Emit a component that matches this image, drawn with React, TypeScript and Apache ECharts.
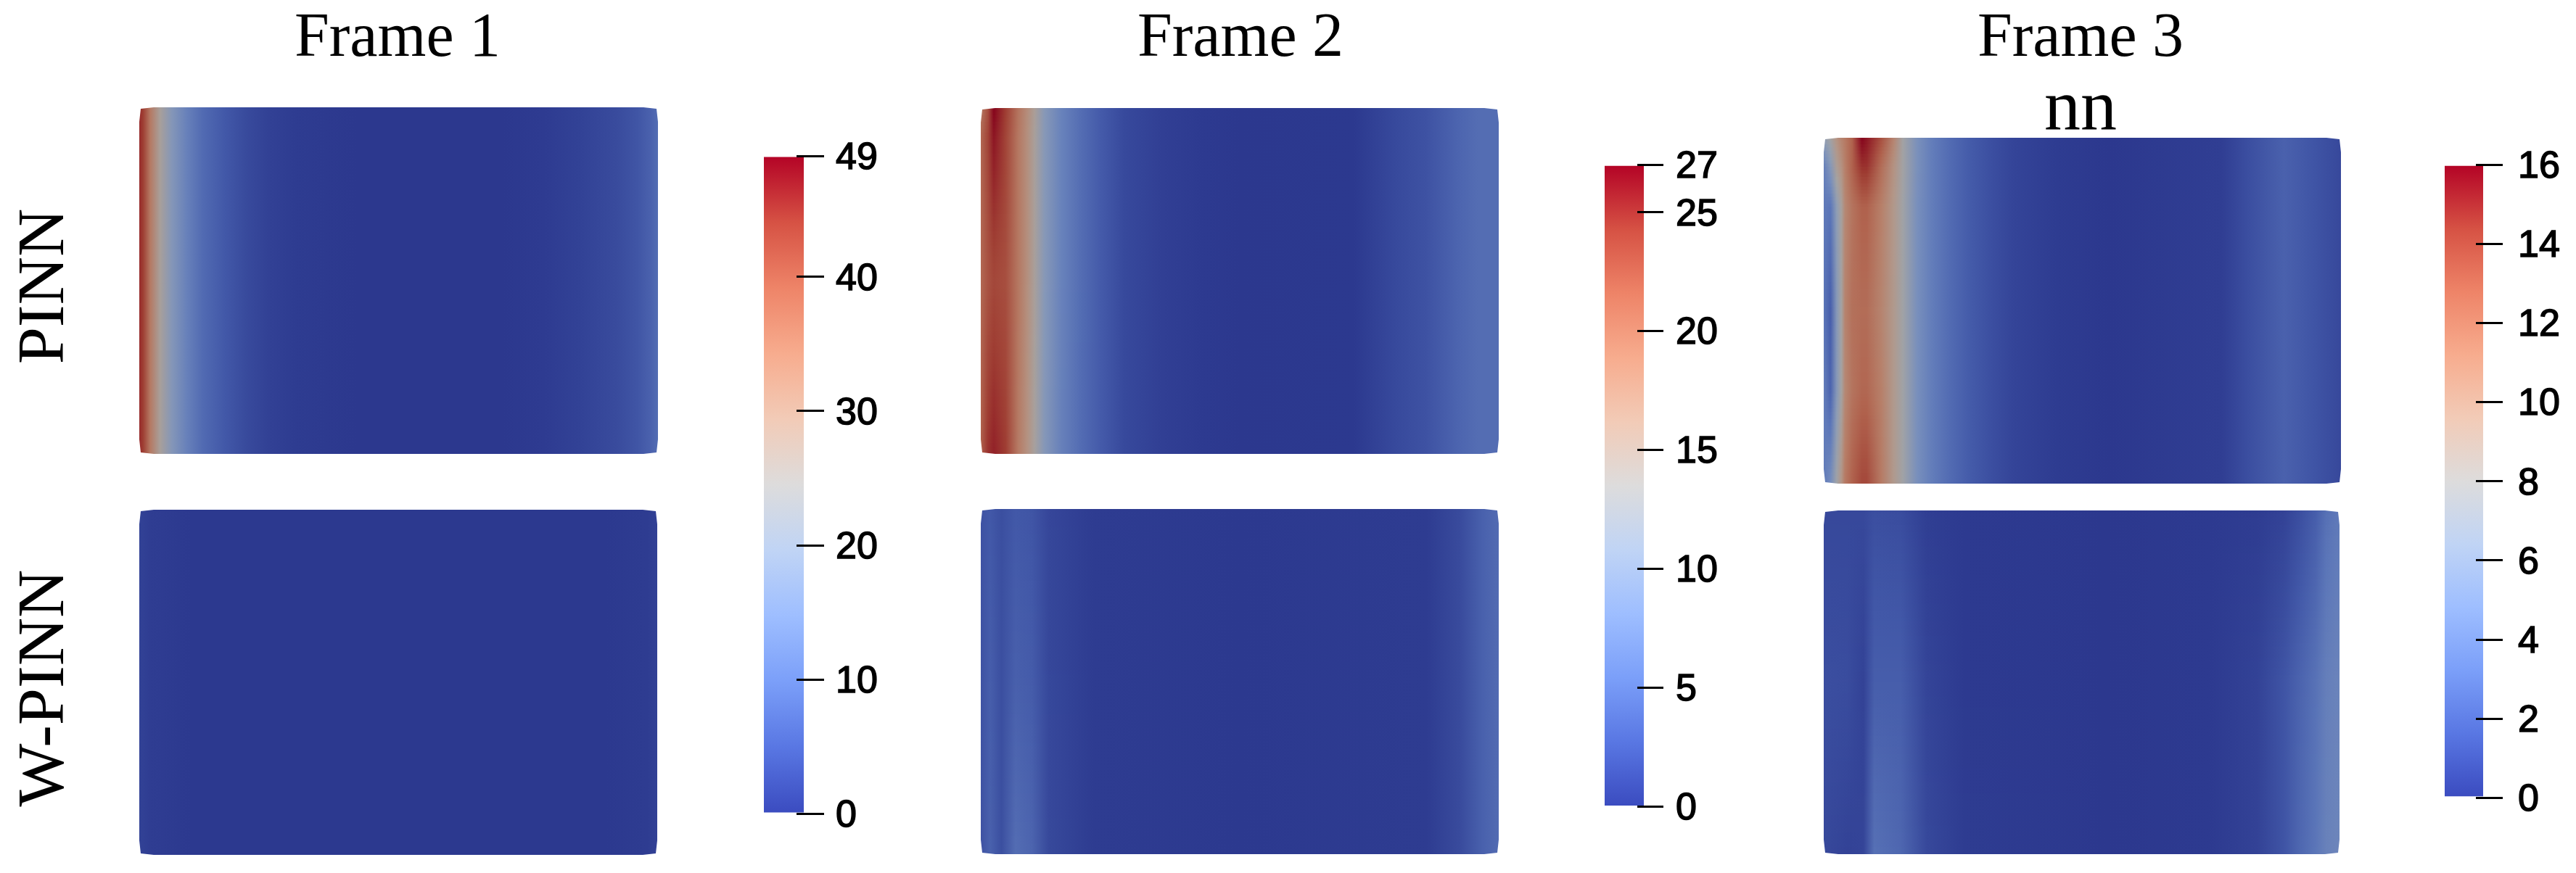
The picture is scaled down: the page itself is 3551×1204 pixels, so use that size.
import React, { useEffect, useRef } from "react";
import * as echarts from "echarts";

const WIDTH = 3551;
const HEIGHT = 1204;

// Diverging colour map (position 0..1 -> rgb)
const coolWarmColors: number[][] = [
  [59, 76, 192], [89, 119, 227], [123, 159, 249], [158, 190, 255], [192, 212, 245],
  [221, 220, 220], [242, 203, 183], [247, 172, 142], [238, 132, 104], [214, 82, 68], [180, 4, 38],
];
const surfaceShade = 0.74;

// Frame 1
const frame1Max = 49;
const frame1Ticks = [0, 10, 20, 30, 40, 49];
const frame1PinnStations = [0, 0.007, 0.021, 0.04, 0.063, 0.091, 0.123, 0.165, 0.207, 0.249, 0.3, 0.36, 0.42, 0.7, 0.78, 0.85, 0.92, 0.96, 0.985, 1];
const frame1PinnRowPos = [0, 1];
const frame1PinnRows = [
  [45.6, 44.1, 35.3, 26, 17.6, 12.2, 7.8, 4.9, 2.7, 1.4, 0.6, 0.2, 0, 0, 0.5, 1.5, 2.9, 4.4, 6.4, 8.3],
  [45.6, 44.1, 35.3, 26, 17.6, 12.2, 7.8, 4.9, 2.7, 1.4, 0.6, 0.2, 0, 0, 0.5, 1.5, 2.9, 4.4, 6.4, 8.3],
];
const frame1WpinnStations = [0, 0.02, 0.1, 0.9, 0.98, 1];
const frame1WpinnRowPos = [0, 1];
const frame1WpinnRows = [
  [1.5, 0.8, 0.1, 0.1, 0.6, 1.3],
  [1.5, 0.8, 0.1, 0.1, 0.6, 1.3],
];

// Frame 2
const frame2Max = 27;
const frame2Ticks = [0, 5, 10, 15, 20, 25, 27];
const frame2PinnStations = [0, 0.014, 0.025, 0.048, 0.072, 0.09, 0.104, 0.123, 0.156, 0.193, 0.23, 0.277, 0.35, 0.43, 0.5, 0.72, 0.8, 0.86, 0.92, 0.96, 1];
const frame2PinnRowPos = [0, 0.08, 0.5, 1];
const frame2PinnRows = [
  [19.4, 23, 27, 24.3, 20, 17.3, 14.6, 10, 6.8, 4.6, 3, 1.4, 0.6, 0.15, 0, 0.1, 1.4, 2.2, 3.8, 4.6, 4.6],
  [21, 23.8, 26.2, 23.8, 19.7, 17, 14.3, 10, 6.8, 4.6, 3, 1.4, 0.6, 0.15, 0, 0.1, 1.4, 2.2, 3.8, 4.6, 4.6],
  [21, 22.7, 23.5, 23, 19.7, 17, 14.3, 10, 6.8, 4.6, 3, 1.4, 0.6, 0.15, 0, 0.1, 1.4, 2.2, 3.8, 4.6, 4.6],
  [21.6, 24.8, 25.6, 24.3, 19.4, 16.7, 14, 9.8, 6.6, 4.5, 3, 1.4, 0.6, 0.15, 0, 0.1, 1.4, 2.2, 3.8, 4.6, 4.6],
];
const frame2WpinnStations = [0, 0.018, 0.04, 0.067, 0.099, 0.131, 0.217, 0.5, 0.861, 0.926, 0.969, 1];
const frame2WpinnRowPos = [0, 0.5, 1];
const frame2WpinnRows = [
  [2.2, 2.7, 1.9, 2.7, 2.4, 1.2, 0.3, 0.1, 0.3, 1.6, 3.5, 4.4],
  [2.2, 3.2, 1.9, 3.4, 3, 1.3, 0.3, 0.1, 0.3, 1.6, 3.5, 4.4],
  [2.2, 3.5, 1.9, 4.6, 3.8, 1.4, 0.3, 0.1, 0.3, 1.6, 3.5, 4.4],
];

// Frame 3
const frame3Max = 16;
const frame3Ticks = [0, 2, 4, 6, 8, 10, 12, 14, 16];
const frame3PinnStations = [0, 0.013, 0.025, 0.034, 0.041, 0.055, 0.074, 0.083, 0.111, 0.135, 0.153, 0.181, 0.209, 0.242, 0.28, 0.326, 0.368, 0.45, 0.55, 0.77, 0.82, 0.89, 0.95, 1];
const frame3PinnRowPos = [0, 0.084, 0.2, 0.5, 0.73, 1];
const frame3PinnRows = [
  [6.7, 8, 9.9, 10.9, 11.5, 12.8, 16, 15.5, 13.6, 10.9, 7.9, 5.1, 3.7, 2.7, 1.8, 1.1, 0.6, 0.2, 0, 0.3, 1.1, 2.1, 1.4, 0.8],
  [3.8, 5.8, 8.8, 9.9, 11.2, 12.8, 14.7, 14.7, 12.2, 9.9, 7.9, 5.1, 3.7, 2.7, 1.8, 1.1, 0.6, 0.2, 0, 0.3, 1.1, 2.1, 1.4, 0.8],
  [3.5, 3.2, 6.4, 8.3, 10.6, 11.8, 12.8, 12.8, 11.2, 9.4, 7.7, 5, 3.7, 2.7, 1.8, 1.1, 0.6, 0.2, 0, 0.3, 1.1, 2.1, 1.4, 0.8],
  [3.2, 1.9, 5.8, 8, 10.9, 12, 12.2, 12.2, 10.9, 9.3, 7.7, 5, 3.7, 2.7, 1.8, 1.1, 0.6, 0.2, 0, 0.3, 1.1, 2.1, 1.4, 0.8],
  [3.8, 2.2, 5.8, 8, 10.6, 11.8, 12.5, 12.5, 11.2, 9.3, 7.7, 5, 3.7, 2.7, 1.8, 1.1, 0.6, 0.2, 0, 0.3, 1.1, 2.1, 1.4, 0.8],
  [3.5, 4.8, 7.7, 9.6, 11.5, 12.8, 13.9, 13.9, 11.5, 9.3, 7.7, 5, 3.7, 2.7, 1.8, 1.1, 0.6, 0.2, 0, 0.3, 1.1, 2.1, 1.4, 0.8],
];
const frame3WpinnStations = [0, 0.046, 0.077, 0.098, 0.149, 0.2, 0.273, 0.55, 0.747, 0.84, 0.892, 0.923, 0.954, 0.974, 1];
const frame3WpinnRowPos = [0, 0.5, 1];
const frame3WpinnRows = [
  [0.8, 0.8, 0.8, 1.1, 1, 0.3, 0.1, 0, 0.1, 0.2, 0.5, 1.1, 1.9, 2.9, 3.5],
  [1.1, 1, 0.5, 1.9, 1.9, 0.6, 0.1, 0, 0.1, 0.5, 1.4, 2.2, 3, 3.8, 4.2],
  [0.8, 0.5, 0.6, 2.9, 2.4, 0.8, 0.2, 0, 0.1, 0.5, 1.4, 2.4, 3.2, 4, 4.3],
];

const frameTitles = ["Frame 1", "Frame 2", "Frame 3"];
const extraTitle = "nn";
const rowTitles = ["PINN", "W-PINN"];

function sampleRgb(t: number): number[] {
  const c = Math.min(1, Math.max(0, t)) * (coolWarmColors.length - 1);
  const i = Math.min(coolWarmColors.length - 2, Math.floor(c));
  const f = c - i;
  return coolWarmColors[i].map((v, k) => v + (coolWarmColors[i + 1][k] - v) * f);
}
function surfaceColor(value: number, max: number): string {
  const rgb = sampleRgb(value / max).map((v) => Math.round(v * surfaceShade));
  return `rgb(${rgb[0]},${rgb[1]},${rgb[2]})`;
}

type Panel = {
  box: number[];
  max: number;
  stations: number[];
  rowPos: number[];
  rows: number[][];
};
const panels: Panel[] = [
  { box: [192, 148, 715, 478], max: frame1Max, stations: frame1PinnStations, rowPos: frame1PinnRowPos, rows: frame1PinnRows },
  { box: [192, 703, 714, 476], max: frame1Max, stations: frame1WpinnStations, rowPos: frame1WpinnRowPos, rows: frame1WpinnRows },
  { box: [1352, 149, 714, 477], max: frame2Max, stations: frame2PinnStations, rowPos: frame2PinnRowPos, rows: frame2PinnRows },
  { box: [1352, 702, 714, 476], max: frame2Max, stations: frame2WpinnStations, rowPos: frame2WpinnRowPos, rows: frame2WpinnRows },
  { box: [2514, 190, 713, 477], max: frame3Max, stations: frame3PinnStations, rowPos: frame3PinnRowPos, rows: frame3PinnRows },
  { box: [2514, 704, 711, 474], max: frame3Max, stations: frame3WpinnStations, rowPos: frame3WpinnRowPos, rows: frame3WpinnRows },
];

type Bar = { box: number[]; max: number; ticks: number[]; span: number[]; offset: number; tick: number; margin: number };
const bars: Bar[] = [
  { box: [1053, 215, 55, 907], max: frame1Max, ticks: frame1Ticks, span: [0.08, 48.92], offset: -45, tick: 38, margin: 89 },
  { box: [2212, 227, 54, 885], max: frame2Max, ticks: frame2Ticks, span: [0.03, 26.95], offset: -45, tick: 36, margin: 89 },
  { box: [3370, 227, 53, 873], max: frame3Max, ticks: frame3Ticks, span: [0.03, 15.97], offset: -43, tick: 37, margin: 91 },
];

const serif = "'Liberation Serif', serif";
const sans = "'Liberation Sans', sans-serif";

function panelSeries(p: Panel, gridIndex: number) {
  const data = p.rowPos.slice(0, -1).map((y, i) => [y, p.rowPos[i + 1], i]);
  return {
    type: "custom",
    silent: true,
    coordinateSystem: "cartesian2d",
    xAxisIndex: gridIndex,
    yAxisIndex: gridIndex,
    clip: true,
    encode: { x: [], y: [0, 1] },
    data,
    renderItem: (_params: any, api: any) => {
      const y0 = api.value(0);
      const y1 = api.value(1);
      const r = api.value(2);
      const a = api.coord([0, y0]);
      const b = api.coord([1, y1]);
      const count = Math.max(1, Math.ceil((b[1] - a[1]) / 5));
      const children: any[] = [];
      for (let s = 0; s < count; s++) {
        const f = (s + 0.5) / count;
        const top = a[1] + ((b[1] - a[1]) * s) / count;
        const h = (b[1] - a[1]) / count;
        const stops = p.stations.map((st, k) => ({
          offset: st,
          color: surfaceColor(p.rows[r][k] + (p.rows[r + 1][k] - p.rows[r][k]) * f, p.max),
        }));
        children.push({
          type: "rect",
          shape: { x: a[0], y: top, width: b[0] - a[0], height: s === count - 1 && y1 === 1 ? h : h + 1 },
          style: { fill: new echarts.graphic.LinearGradient(0, 0, 1, 0, stops) },
        });
      }
      return { type: "group", children };
    },
  };
}

function barSeries(b: Bar, gridIndex: number) {
  return {
    type: "custom",
    silent: true,
    coordinateSystem: "cartesian2d",
    xAxisIndex: gridIndex,
    yAxisIndex: gridIndex,
    clip: false,
    z: 1,
    encode: { x: [], y: [0, 1] },
    data: [b.span],
    renderItem: (_params: any, api: any) => {
      const lo = api.coord([0, api.value(0)]);
      const hi = api.coord([1, api.value(1)]);
      const stops = coolWarmColors.map((c, i) => ({
        offset: i / (coolWarmColors.length - 1),
        color: `rgb(${c[0]},${c[1]},${c[2]})`,
      }));
      return {
        type: "rect",
        shape: { x: lo[0], y: hi[1], width: hi[0] - lo[0], height: lo[1] - hi[1] },
        style: { fill: new echarts.graphic.LinearGradient(0, 1, 0, 0, stops) },
      };
    },
  };
}

function titleText(text: string, x: number, y: number, size: number, rotation = 0) {
  return {
    type: "text",
    x,
    y,
    rotation,
    z: 20,
    style: {
      text,
      fontFamily: serif,
      fontSize: size,
      lineHeight: Math.round(size * 0.8),
      fill: "#000",
      align: "center",
      verticalAlign: "middle",
    },
  };
}

// Small concave nicks at the panel corners, as on the rendered surfaces
function cornerNicks(box: number[]) {
  const [x, y, w, h] = box;
  const run = 20;
  const dip = 2;
  const corners = [
    [x, y, 1, 1],
    [x + w, y, -1, 1],
    [x, y + h, 1, -1],
    [x + w, y + h, -1, -1],
  ];
  return corners.map(([cx, cy, sx, sy]) => ({
    type: "polygon",
    z: 15,
    silent: true,
    shape: {
      points: [
        [cx - sx, cy - sy],
        [cx - sx, cy + sy * run],
        [cx, cy + sy * run],
        [cx + sx * dip, cy + sy * dip],
        [cx + sx * run, cy],
        [cx + sx * run, cy - sy],
      ],
    },
    style: { fill: "#ffffff" },
  }));
}

export default function App() {
  const ref = useRef<HTMLDivElement>(null);
  useEffect(() => {
    if (!ref.current) return;
    document.body.style.margin = "0";
    const chart = echarts.init(ref.current, undefined, { renderer: "svg" });
    const grid: any[] = [];
    const xAxis: any[] = [];
    const yAxis: any[] = [];
    const series: any[] = [];
    panels.forEach((p) => {
      const i = grid.length;
      grid.push({ left: p.box[0], top: p.box[1], width: p.box[2], height: p.box[3], containLabel: false });
      xAxis.push({ type: "value", gridIndex: i, min: 0, max: 1, show: false });
      yAxis.push({ type: "value", gridIndex: i, min: 0, max: 1, inverse: true, show: false });
      series.push(panelSeries(p, i));
    });
    bars.forEach((b) => {
      const i = grid.length;
      grid.push({ left: b.box[0], top: b.box[1], width: b.box[2], height: b.box[3], containLabel: false });
      xAxis.push({ type: "value", gridIndex: i, min: 0, max: 1, show: false });
      yAxis.push({
        type: "value",
        gridIndex: i,
        min: 0,
        max: b.max,
        position: "right",
        offset: b.offset,
        splitLine: { show: false },
        axisLine: { show: false },
        axisTick: {
          show: true,
          length: b.tick,
          customValues: b.ticks,
          lineStyle: { color: "#000", width: 3 },
        },
        axisLabel: {
          show: true,
          margin: b.margin,
          customValues: b.ticks,
          fontFamily: sans,
          fontSize: 52,
          color: "#000",
          textBorderColor: "#000",
          textBorderWidth: 1.5,
          padding: [0, 0, 12, 0],
          hideOverlap: false,
        },
        z: 5,
      });
      series.push(barSeries(b, i));
    });
    chart.setOption({
      animation: false,
      backgroundColor: "#ffffff",
      grid,
      xAxis,
      yAxis,
      series,
      graphic: [
        titleText(frameTitles[0], 548, 48, 86),
        titleText(frameTitles[1], 1710, 48, 86),
        titleText(frameTitles[2], 2868, 48, 86),
        titleText(extraTitle, 2868, 144, 100),
        titleText(rowTitles[0], 56, 395, 92, Math.PI / 2),
        titleText(rowTitles[1], 56, 949, 92, Math.PI / 2),
        ...panels.flatMap((p) => cornerNicks(p.box)),
      ],
    });
    return () => chart.dispose();
  }, []);
  return <div ref={ref} style={{ position: "absolute", left: 0, top: 0, width: WIDTH, height: HEIGHT }} />;
}
